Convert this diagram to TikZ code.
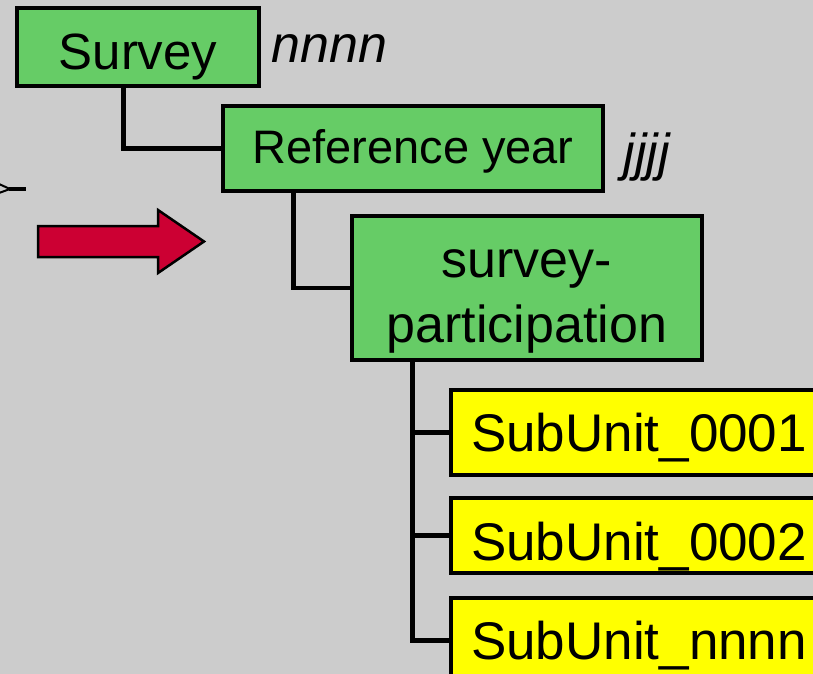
\documentclass[tikz,border=0pt]{standalone}
\usepackage{fontspec}
\setmainfont{Liberation Sans}
\definecolor{bggray}{RGB}{204,204,204}
\definecolor{boxgreen}{RGB}{102,204,102}
\definecolor{boxyellow}{RGB}{255,255,0}
\definecolor{arrowred}{RGB}{204,0,51}
\begin{document}
\begin{tikzpicture} [
  x=1bp, y=-1bp,
  every node/.style={draw, line width=3.5bp, inner sep=0pt},
  greenbox/.style={fill=boxgreen},
  unitbox/.style={fill=boxyellow, minimum width=376bp, text height=38bp, text depth=0bp,
    font=\fontsize{53bp}{64bp}\selectfont},
  tag/.style={draw=none, anchor=base west, font=\fontsize{52bp}{62bp}\selectfont\itshape},
  link/.style={line width=4.5bp}
  ]
  \useasboundingbox [fill=bggray] (0,0) rectangle (813,674);
  \clip (0,0) rectangle (813,674);
  \node (n0) [greenbox, minimum width=242bp, minimum height=78bp, text height=46bp, text depth=0bp,
    font=\fontsize{51bp}{61bp}\selectfont] at (138,47) {Survey};
  \node (n1) [greenbox, minimum width=380bp, minimum height=85bp, text height=29bp, text depth=0bp,
    font=\fontsize{47bp}{57bp}\selectfont] at (413,148.5) {Reference year};
  \node (n2) [greenbox, minimum width=350bp, minimum height=144bp, align=center, text height=108bp,
    text depth=0bp, font=\fontsize{52bp}{65bp}\selectfont] at (527,288) {survey-\\participation};
  \node (n3) [unitbox, minimum height=85bp] at (639,432.5) {SubUnit\_0001};
  \node (n4) [unitbox, minimum height=75bp, text height=49bp] at (639,535.5) {SubUnit\_0002};
  \node (n5) [unitbox, minimum height=85bp] at (639,640.5) {SubUnit\_nnnn};
  \node (t0) [tag] at (270,63) {nnnn};
  \node (t1) [tag] at (622,170) {jjjj};
  \draw [link] ([xshift=108bp]n0.south west) |- (n1.west);
  \draw [link] ([xshift=72bp]n1.south west) |- (n2.west);
  \draw [link] ([xshift=62bp]n2.south west) |- (n3.west);
  \draw [link] ([xshift=62bp]n2.south west) |- (n4.west);
  \draw [link] ([xshift=62bp]n2.south west) |- (n5.west);
  \filldraw [fill=arrowred, line width=2.5bp] (38,226) -- (158,226) -- (158,210) -- (204,241.5)
    -- (158,273) -- (158,257) -- (38,257) -- cycle;
  \draw [line width=2bp] (-1,184) -- (10,189) -- (-1,193);
  \draw [line width=3.5bp] (9,189) -- (26,189);
\end{tikzpicture}
\end{document}
